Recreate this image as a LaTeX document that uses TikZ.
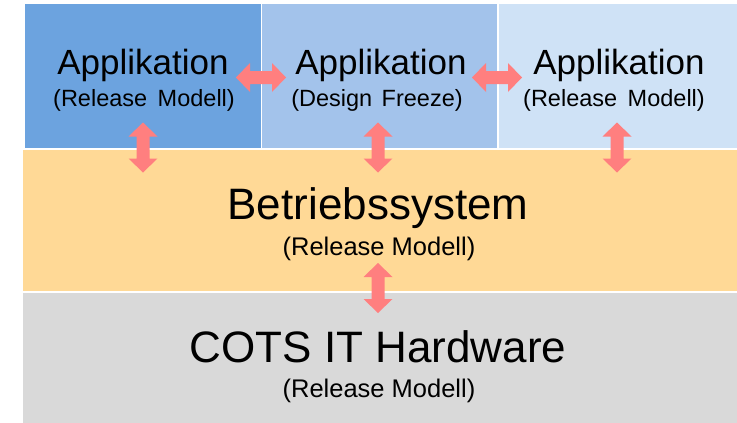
\documentclass[tikz,border=0pt]{standalone}
\usepackage{fontspec}
\setmainfont{Liberation Sans}
\definecolor{appA}{HTML}{6CA3DF}
\definecolor{appB}{HTML}{A3C3EB}
\definecolor{appC}{HTML}{CFE2F6}
\definecolor{oslayer}{HTML}{FFD996}
\definecolor{hwlayer}{HTML}{D9D9D9}
\definecolor{linkred}{HTML}{FF7F7F}
\begin{document}
\begin{tikzpicture}[x=1pt,y=-1pt,
  layer/.style={draw=none, inner sep=0pt, outer sep=0pt, anchor=north west},
  title/.style={anchor=base, inner sep=0pt, font=\fontsize{35}{40}\selectfont},
  bigtitle/.style={anchor=base, inner sep=0pt, font=\fontsize{44}{50}\selectfont},
  sub/.style={anchor=base, inner sep=0pt, font=\fontsize{23.5}{28}\selectfont},
  bigsub/.style={anchor=base, inner sep=0pt, font=\fontsize{25.5}{30}\selectfont},
  pics/twohead/.style={code={
    \fill[linkred] (-25,0) -- (-11,-14.5) -- (-11,-6.5) -- (11,-6.5) -- (11,-14.5)
      -- (25,0) -- (11,14.5) -- (11,6.5) -- (-11,6.5) -- (-11,14.5) -- cycle;}}
]
\path[use as bounding box] (0,0) rectangle (737,423);
\fill[white] (0,0) rectangle (737,423);

% application layer
\node[layer, fill=appA, minimum width=236pt, minimum height=144pt] (app1) at (25,4) {};
\node[layer, fill=appB, minimum width=235pt, minimum height=144pt] (app2) at (262,4) {};
\node[layer, fill=appC, minimum width=238pt, minimum height=144pt] (app3) at (499,4) {};
% operating system and hardware layers
\node[layer, fill=oslayer, minimum width=714pt, minimum height=141pt] (os) at (23,150) {};
\node[layer, fill=hwlayer, minimum width=714pt, minimum height=130pt] (hw) at (23,293) {};

% labels
\node[title] (t1) at (143,74) {Applikation};
\node[sub] (s1) at (144,106) {(Release\hspace{4pt} Modell)};
\node[title] (t2) at (381,74) {Applikation};
\node[sub] (s2) at (377,106) {(Design\hspace{3pt} Freeze)};
\node[title] (t3) at (619,74) {Applikation};
\node[sub] (s3) at (614,106) {(Release\hspace{4pt} Modell)};
\node[bigtitle] (tos) at (378,219) {Betriebssystem};
\node[bigsub] (sos) at (379,255) {(Release Modell)};
\node[bigtitle] (thw) at (378,362) {COTS IT Hardware};
\node[bigsub] (shw) at (379,397) {(Release Modell)};

% interface arrows
\coordinate (l12) at (261,77.5);
\coordinate (l23) at (497,77.5);
\coordinate (l1os) at (143,147.5);
\coordinate (l2os) at (378,147.5);
\coordinate (l3os) at (617,147.5);
\coordinate (loshw) at (378,288);
\pic at (l12) {twohead};
\pic at (l23) {twohead};
\pic[rotate=90] at (l1os) {twohead};
\pic[rotate=90] at (l2os) {twohead};
\pic[rotate=90] at (l3os) {twohead};
\pic[rotate=90] at (loshw) {twohead};
\end{tikzpicture}
\end{document}
